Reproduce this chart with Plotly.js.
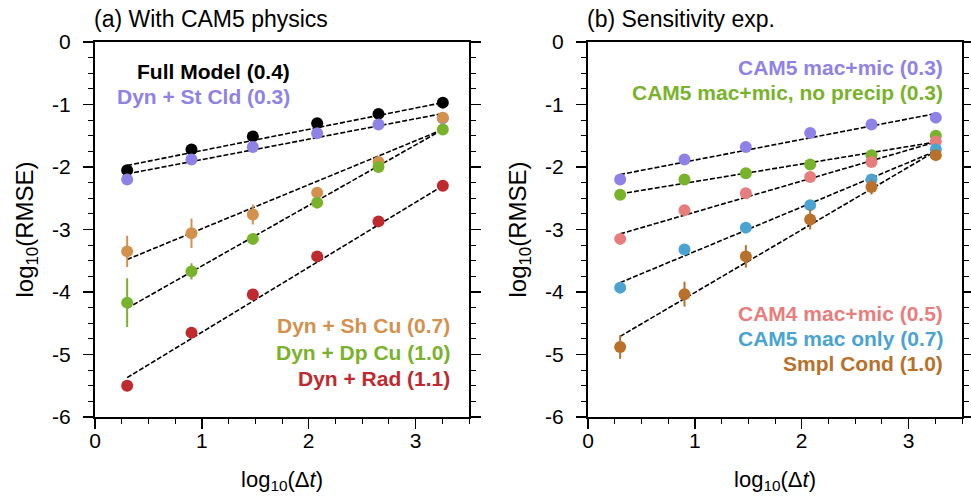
<!DOCTYPE html>
<html>
<head>
<meta charset="utf-8">
<script src="https://cdn.plot.ly/plotly-3.0.1.min.js"></script>
<style>html,body{margin:0;padding:0;background:#fff;}#chart{width:971px;height:498px;}</style>
</head>
<body>
<div id="chart"></div>
<script>
// log10(dt) sample positions
const logDt = [0.301, 0.903, 1.477, 2.079, 2.653, 3.255];
const fitX = [0.301, 3.255];

// Panel (a): With CAM5 physics
const aNames = ["Full Model (0.4)", "Dyn + St Cld (0.3)", "Dyn + Sh Cu (0.7)", "Dyn + Dp Cu (1.0)", "Dyn + Rad (1.1)"];
const aColors = ["#000000", "#8F82E6", "#D4914E", "#79B22B", "#C0292E"];
const aFull   = [-2.05, -1.72, -1.51, -1.30, -1.15, -0.97];
const aStCld  = [-2.20, -1.88, -1.68, -1.46, -1.32, -1.22];
const aShCu   = [-3.35, -3.06, -2.76, -2.41, -1.92, -1.21];
const aDpCu   = [-4.17, -3.67, -3.15, -2.57, -2.00, -1.40];
const aRad    = [-5.50, -4.65, -4.04, -3.43, -2.87, -2.30];
const aErrFull  = [0.03, 0.02, 0.02, 0.02, 0.02, 0.01];
const aErrStCld = [0.03, 0.02, 0.02, 0.02, 0.02, 0.01];
const aErrShCu  = [0.25, 0.235, 0.16, 0.06, 0.08, 0.02];
const aErrDpCu  = [0.39, 0.13, 0.04, 0.03, 0.03, 0.01];
const aErrRad   = [0.02, 0.02, 0.02, 0.02, 0.02, 0.01];
const aFitFull  = [-1.975, -0.97];
const aFitStCld = [-2.11, -1.145];
const aFitShCu  = [-3.48, -1.40];
const aFitDpCu  = [-4.26, -1.40];
const aFitRad   = [-5.37, -2.30];

// Panel (b): Sensitivity exp.
const bNames = ["CAM5 mac+mic (0.3)", "CAM5 mac+mic, no precip (0.3)", "CAM4 mac+mic (0.5)", "CAM5 mac only (0.7)", "Smpl Cond (1.0)"];
const bColors = ["#8F82E6", "#79B22B", "#E87D7D", "#4AA3D0", "#B8702A"];
const bMacMic   = [-2.20, -1.88, -1.68, -1.455, -1.32, -1.21];
const bNoPrecip = [-2.445, -2.20, -2.10, -1.96, -1.81, -1.50];
const bCam4     = [-3.15, -2.69, -2.42, -2.16, -1.92, -1.59];
const bMacOnly  = [-3.93, -3.32, -2.97, -2.61, -2.20, -1.72];
const bSmpl     = [-4.88, -4.035, -3.43, -2.84, -2.32, -1.81];
const bErrMacMic   = [0.02, 0.02, 0.02, 0.02, 0.02, 0.01];
const bErrNoPrecip = [0.02, 0.02, 0.02, 0.02, 0.02, 0.01];
const bErrCam4     = [0.03, 0.03, 0.02, 0.02, 0.02, 0.01];
const bErrMacOnly  = [0.03, 0.03, 0.02, 0.02, 0.02, 0.01];
const bErrSmpl     = [0.19, 0.20, 0.18, 0.16, 0.12, 0.05];
const bFitMacMic   = [-2.12, -1.145];
const bFitNoPrecip = [-2.43, -1.60];
const bFitCam4     = [-3.07, -1.60];
const bFitMacOnly  = [-3.85, -1.745];
const bFitSmpl     = [-4.71, -1.745];

const yTickVals = [-6, -5, -4, -3, -2, -1, 0];
const yTickText = ["-6", "-5", "-4", "-3", "-2", "-1", "0"];
const xTickVals = [0, 1, 2, 3];
const xTickText = ["0", "1", "2", "3"];

const FONT = "Liberation Sans, Arial, Helvetica, sans-serif";

function fitTrace(vals, xa, ya) {
  return {x: fitX, y: vals, xaxis: xa, yaxis: ya, mode: "lines", type: "scatter",
          line: {color: "#000", width: 1.6, dash: "5px,2px"}, hoverinfo: "skip", showlegend: false};
}
function ptTrace(vals, err, color, xa, ya) {
  return {x: logDt, y: vals, xaxis: xa, yaxis: ya, mode: "markers", type: "scatter",
          marker: {color: color, size: 12, line: {width: 0}},
          error_y: {type: "data", array: err, visible: true, color: color, thickness: 2, width: 0},
          showlegend: false};
}

const aSeries = [aFull, aStCld, aShCu, aDpCu, aRad];
const aErrs = [aErrFull, aErrStCld, aErrShCu, aErrDpCu, aErrRad];
const aFits = [aFitFull, aFitStCld, aFitShCu, aFitDpCu, aFitRad];
const bSeries = [bMacMic, bNoPrecip, bCam4, bMacOnly, bSmpl];
const bErrs = [bErrMacMic, bErrNoPrecip, bErrCam4, bErrMacOnly, bErrSmpl];
const bFits = [bFitMacMic, bFitNoPrecip, bFitCam4, bFitMacOnly, bFitSmpl];

const traces = [];
aFits.forEach(f => traces.push(fitTrace(f, "x", "y")));
bFits.forEach(f => traces.push(fitTrace(f, "x2", "y2")));
aSeries.forEach((s, i) => traces.push(ptTrace(s, aErrs[i], aColors[i], "x", "y")));
bSeries.forEach((s, i) => traces.push(ptTrace(s, bErrs[i], bColors[i], "x2", "y2")));

const yDom = [1 - 417/498, 1 - 42/498];
function xAxis(dom, anchor) {
  return {domain: dom, anchor: anchor, range: [0, 3.5], tickvals: xTickVals, ticktext: xTickText,
          ticks: "outside", ticklen: 10, tickwidth: 1.5, tickcolor: "#000", ticklabelstandoff: -6,
          minor: {dtick: 0.25, tick0: 0, ticks: "outside", ticklen: 5, tickwidth: 1, tickcolor: "#000"},
          showline: true, linecolor: "#000", linewidth: 2, mirror: true, showgrid: false, zeroline: false,
          tickfont: {family: FONT, size: 21, color: "#000"},
          title: {text: "log<sub>10</sub>(Δ<i>t</i>)", font: {family: FONT, size: 22, color: "#000"}, standoff: 20}};
}
function yAxis(anchor) {
  return {domain: yDom, anchor: anchor, range: [-6, 0], tickvals: yTickVals, ticktext: yTickText,
          ticks: "outside", ticklen: 10, tickwidth: 1.5, tickcolor: "#000", ticklabelstandoff: 8,
          minor: {dtick: 0.25, tick0: 0, ticks: "outside", ticklen: 5, tickwidth: 1, tickcolor: "#000"},
          showline: true, linecolor: "#000", linewidth: 2, mirror: "ticks", showgrid: false, zeroline: false,
          tickfont: {family: FONT, size: 21, color: "#000"},
          title: {text: "log<sub>10</sub>(RMSE)", font: {family: FONT, size: 24, color: "#000"}, standoff: 12}};
}

function lab(text, color, xa, ya, x, y, anchor) {
  return {text: "<b>" + text + "</b>", font: {family: FONT, size: 21, color: color},
          xref: xa + " domain", yref: ya + " domain", x: x, y: y, xanchor: anchor, yanchor: "middle",
          showarrow: false};
}

const annotations = [
  {text: "(a) With CAM5 physics", font: {family: FONT, size: 23, color: "#000"}, xref: "paper", yref: "paper",
   x: 92/971, y: 1 - 19/498, xanchor: "left", yanchor: "middle", showarrow: false},
  {text: "(b) Sensitivity exp.", font: {family: FONT, size: 23, color: "#000"}, xref: "paper", yref: "paper",
   x: 585/971, y: 1 - 19/498, xanchor: "left", yanchor: "middle", showarrow: false},
  lab(aNames[0], aColors[0], "x", "y", (292-95)/374, (417-72)/375, "right"),
  lab(aNames[1], aColors[1], "x", "y", (292-95)/374, (417-97)/375, "right"),
  lab(aNames[2], aColors[2], "x", "y", (452-95)/374, (417-325)/375, "right"),
  lab(aNames[3], aColors[3], "x", "y", (452-95)/374, (417-352)/375, "right"),
  lab(aNames[4], aColors[4], "x", "y", (452-95)/374, (417-378)/375, "right"),
  lab(bNames[0], bColors[0], "x2", "y2", (945-588)/374, (417-68)/375, "right"),
  lab(bNames[1], bColors[1], "x2", "y2", (945-588)/374, (417-93)/375, "right"),
  lab(bNames[2], bColors[2], "x2", "y2", (945-588)/374, (417-313)/375, "right"),
  lab(bNames[3], bColors[3], "x2", "y2", (945-588)/374, (417-338)/375, "right"),
  lab(bNames[4], bColors[4], "x2", "y2", (945-588)/374, (417-363)/375, "right")
];

const layout = {
  width: 971, height: 498, margin: {l: 0, r: 0, t: 0, b: 0},
  paper_bgcolor: "#fff", plot_bgcolor: "#fff", showlegend: false,
  font: {family: FONT, color: "#000"},
  xaxis: xAxis([95/971, 469/971], "y"),
  yaxis: yAxis("x"),
  xaxis2: xAxis([588/971, 962/971], "y2"),
  yaxis2: yAxis("x2"),
  annotations: annotations
};

Plotly.newPlot("chart", traces, layout, {displayModeBar: false, staticPlot: true});
</script>
</body>
</html>
